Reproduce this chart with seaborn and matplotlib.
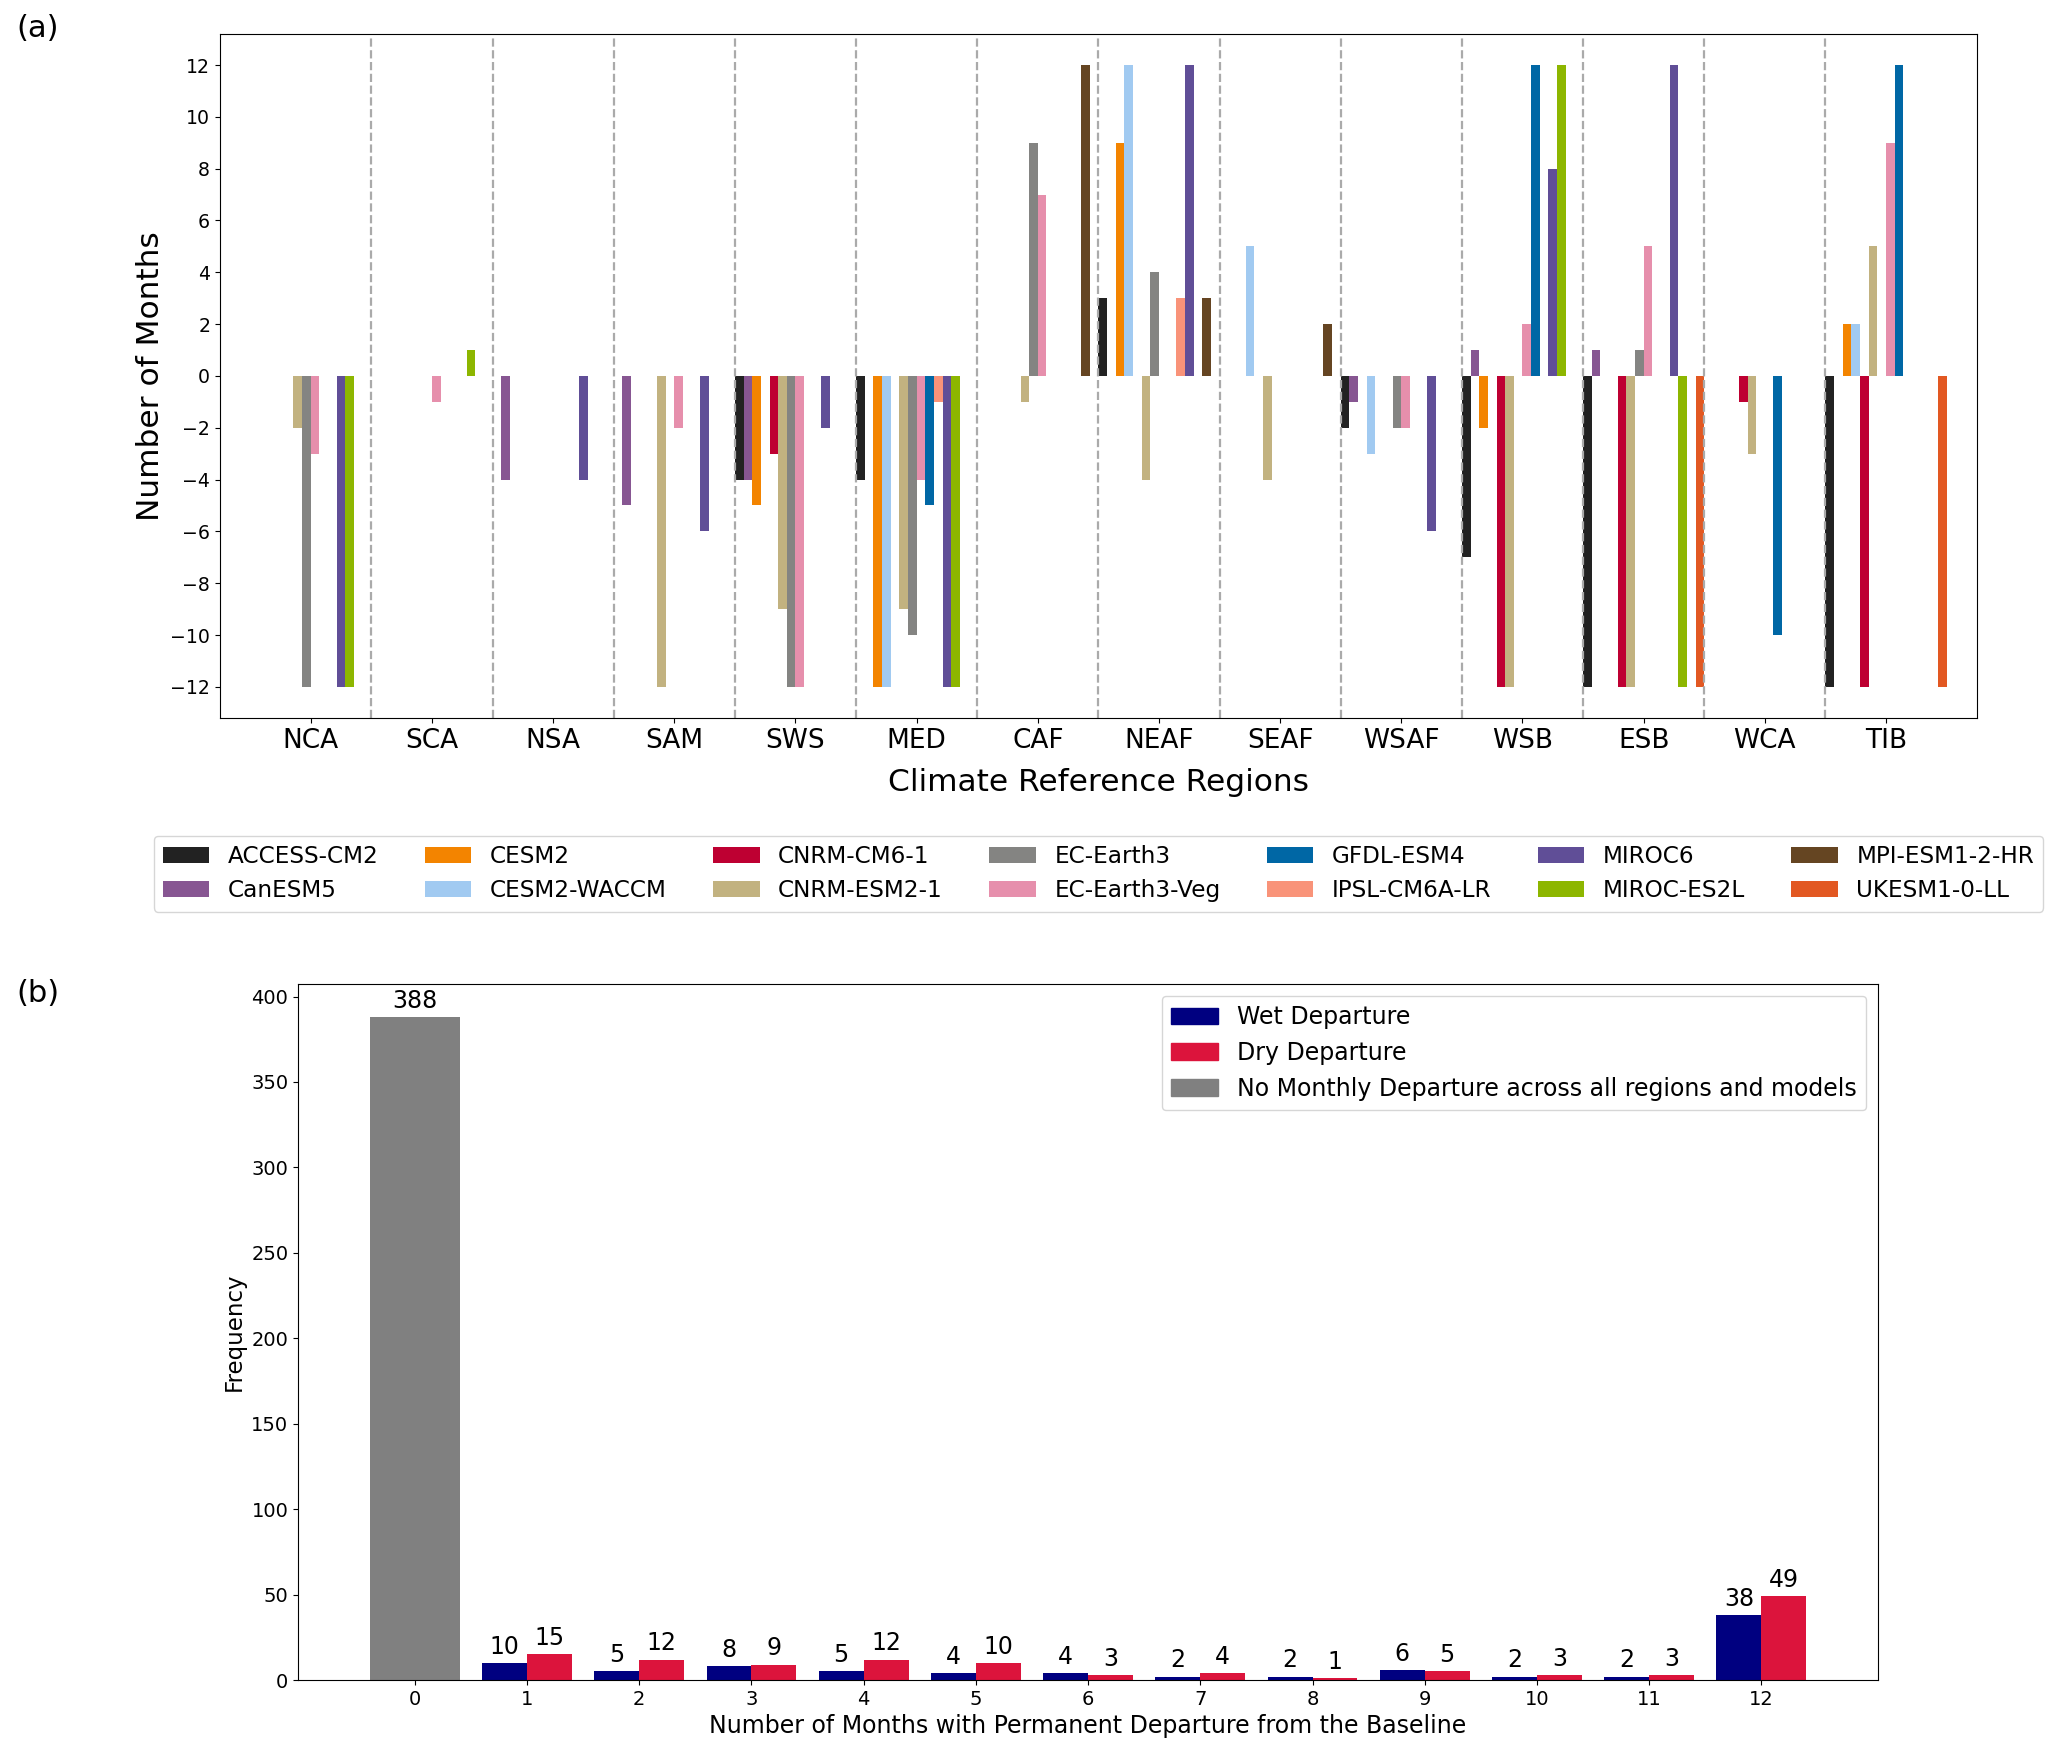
import pandas as pd
import matplotlib.pyplot as plt
import seaborn as sns
from matplotlib.patches import Patch

# ---- panel (a) data: months of permanent departure per region and model ----
regions = ['NCA', 'SCA', 'NSA', 'SAM', 'SWS', 'MED', 'CAF', 'NEAF', 'SEAF',
           'WSAF', 'WSB', 'ESB', 'WCA', 'TIB']
models = ['ACCESS-CM2', 'CanESM5', 'CESM2', 'CESM2-WACCM', 'CNRM-CM6-1',
          'CNRM-ESM2-1', 'EC-Earth3', 'EC-Earth3-Veg', 'GFDL-ESM4',
          'IPSL-CM6A-LR', 'MIROC6', 'MIROC-ES2L', 'MPI-ESM1-2-HR', 'UKESM1-0-LL']
model_colors = ['#222222', '#875692', '#F38400', '#A1CAF1', '#BE0032',
                '#C2B280', '#848482', '#E68FAC', '#0067A5', '#F99379',
                '#604E97', '#8DB600', '#654522', '#E25822']

access_cm2 = [0, 0, 0, 0, -4, -4, 0, 3, 0, -2, -7, -12, 0, -12]
canesm5 = [0, 0, -4, -5, -4, 0, 0, 0, 0, -1, 1, 1, 0, 0]
cesm2 = [0, 0, 0, 0, -5, -12, 0, 9, 0, 0, -2, 0, 0, 2]
cesm2_waccm = [0, 0, 0, 0, 0, -12, 0, 12, 5, -3, 0, 0, 0, 2]
cnrm_cm6_1 = [0, 0, 0, 0, -3, 0, 0, 0, 0, 0, -12, -12, -1, -12]
cnrm_esm2_1 = [-2, 0, 0, -12, -9, -9, -1, -4, -4, 0, -12, -12, -3, 5]
ec_earth3 = [-12, 0, 0, 0, -12, -10, 9, 4, 0, -2, 0, 1, 0, 0]
ec_earth3_veg = [-3, -1, 0, -2, -12, -4, 7, 0, 0, -2, 2, 5, 0, 9]
gfdl_esm4 = [0, 0, 0, 0, 0, -5, 0, 0, 0, 0, 12, 0, -10, 12]
ipsl_cm6a_lr = [0, 0, 0, 0, 0, -1, 0, 3, 0, 0, 0, 0, 0, 0]
miroc6 = [-12, 0, -4, -6, -2, -12, 0, 12, 0, -6, 8, 12, 0, 0]
miroc_es2l = [-12, 1, 0, 0, 0, -12, 0, 0, 0, 0, 12, -12, 0, 0]
mpi_esm1_2_hr = [0, 0, 0, 0, 0, 0, 12, 3, 2, 0, 0, 0, 0, 0]
ukesm1_0_ll = [0, 0, 0, 0, 0, 0, 0, 0, 0, 0, 0, -12, 0, -12]

model_values = [access_cm2, canesm5, cesm2, cesm2_waccm, cnrm_cm6_1, cnrm_esm2_1,
                ec_earth3, ec_earth3_veg, gfdl_esm4, ipsl_cm6a_lr, miroc6,
                miroc_es2l, mpi_esm1_2_hr, ukesm1_0_ll]

# ---- panel (b) data: histogram of departure months ----
month_counts = list(range(13))
wet_months = list(range(1, 13))
wet_freq = [10, 5, 8, 5, 4, 4, 2, 2, 6, 2, 2, 38]
dry_freq = [15, 12, 9, 12, 10, 3, 4, 1, 5, 3, 3, 49]
no_departure_freq = 388

rows = []
for m, vals in zip(models, model_values):
    for r, v in zip(regions, vals):
        rows.append((r, m, v))
df_a = pd.DataFrame(rows, columns=['region', 'model', 'months'])

df_b = pd.DataFrame({
    'month': wet_months * 2,
    'freq': wet_freq + dry_freq,
    'kind': ['Wet Departure'] * 12 + ['Dry Departure'] * 12,
})
df_0 = pd.DataFrame({'month': [0], 'freq': [no_departure_freq]})

fig = plt.figure(figsize=(20.67, 17.57), dpi=100)
ax1 = fig.add_axes([0.1064, 0.5914, 0.8500, 0.3893])
ax2 = fig.add_axes([0.1442, 0.0438, 0.7644, 0.3962])

# panel (a)
sns.barplot(data=df_a, x='region', y='months', hue='model', order=regions,
            hue_order=models, palette=dict(zip(models, model_colors)),
            saturation=1, width=1, errorbar=None, linewidth=0, ax=ax1)
for i in range(len(regions) - 1):
    ax1.axvline(i + 0.5, color='#aaaaaa', ls='--', lw=1.6)
ax1.set_xlim(-0.75, 13.75)
ax1.set_ylim(-13.2, 13.2)
ax1.set_yticks(range(-12, 13, 2))
ax1.set_xlabel('Climate Reference Regions', fontsize=22.5, labelpad=10)
ax1.set_ylabel('Number of Months', fontsize=22.5)
ax1.tick_params(axis='x', labelsize=19)
ax1.tick_params(axis='y', labelsize=13.6)
sns.move_legend(ax1, 'upper center', bbox_to_anchor=(0.5, -0.155), ncol=7,
                title=None, fontsize=16.7, frameon=True)

# panel (b)
sns.barplot(data=df_b, x='month', y='freq', hue='kind', order=month_counts,
            hue_order=['Wet Departure', 'Dry Departure'],
            palette={'Wet Departure': 'navy', 'Dry Departure': 'crimson'},
            saturation=1, width=0.8, errorbar=None, linewidth=0, legend=False, ax=ax2)
sns.barplot(data=df_0, x='month', y='freq', order=month_counts, color='gray',
            saturation=1, width=0.8, errorbar=None, linewidth=0, ax=ax2)
for c in ax2.containers:
    ax2.bar_label(c, fontsize=17, padding=3)
ax2.set_xlim(-1.04, 13.04)
ax2.set_xlabel('Number of Months with Permanent Departure from the Baseline', fontsize=17)
ax2.set_ylabel('Frequency', fontsize=16.5)
ax2.tick_params(labelsize=14)
handles = [Patch(color='navy', label='Wet Departure'),
           Patch(color='crimson', label='Dry Departure'),
           Patch(color='gray', label='No Monthly Departure across all regions and models')]
ax2.legend(handles=handles, loc='upper right', fontsize=17)

fig.text(0.008, 0.992, '(a)', fontsize=22, va='top')
fig.text(0.008, 0.443, '(b)', fontsize=22, va='top')

fig.savefig('out.png', dpi=100)
